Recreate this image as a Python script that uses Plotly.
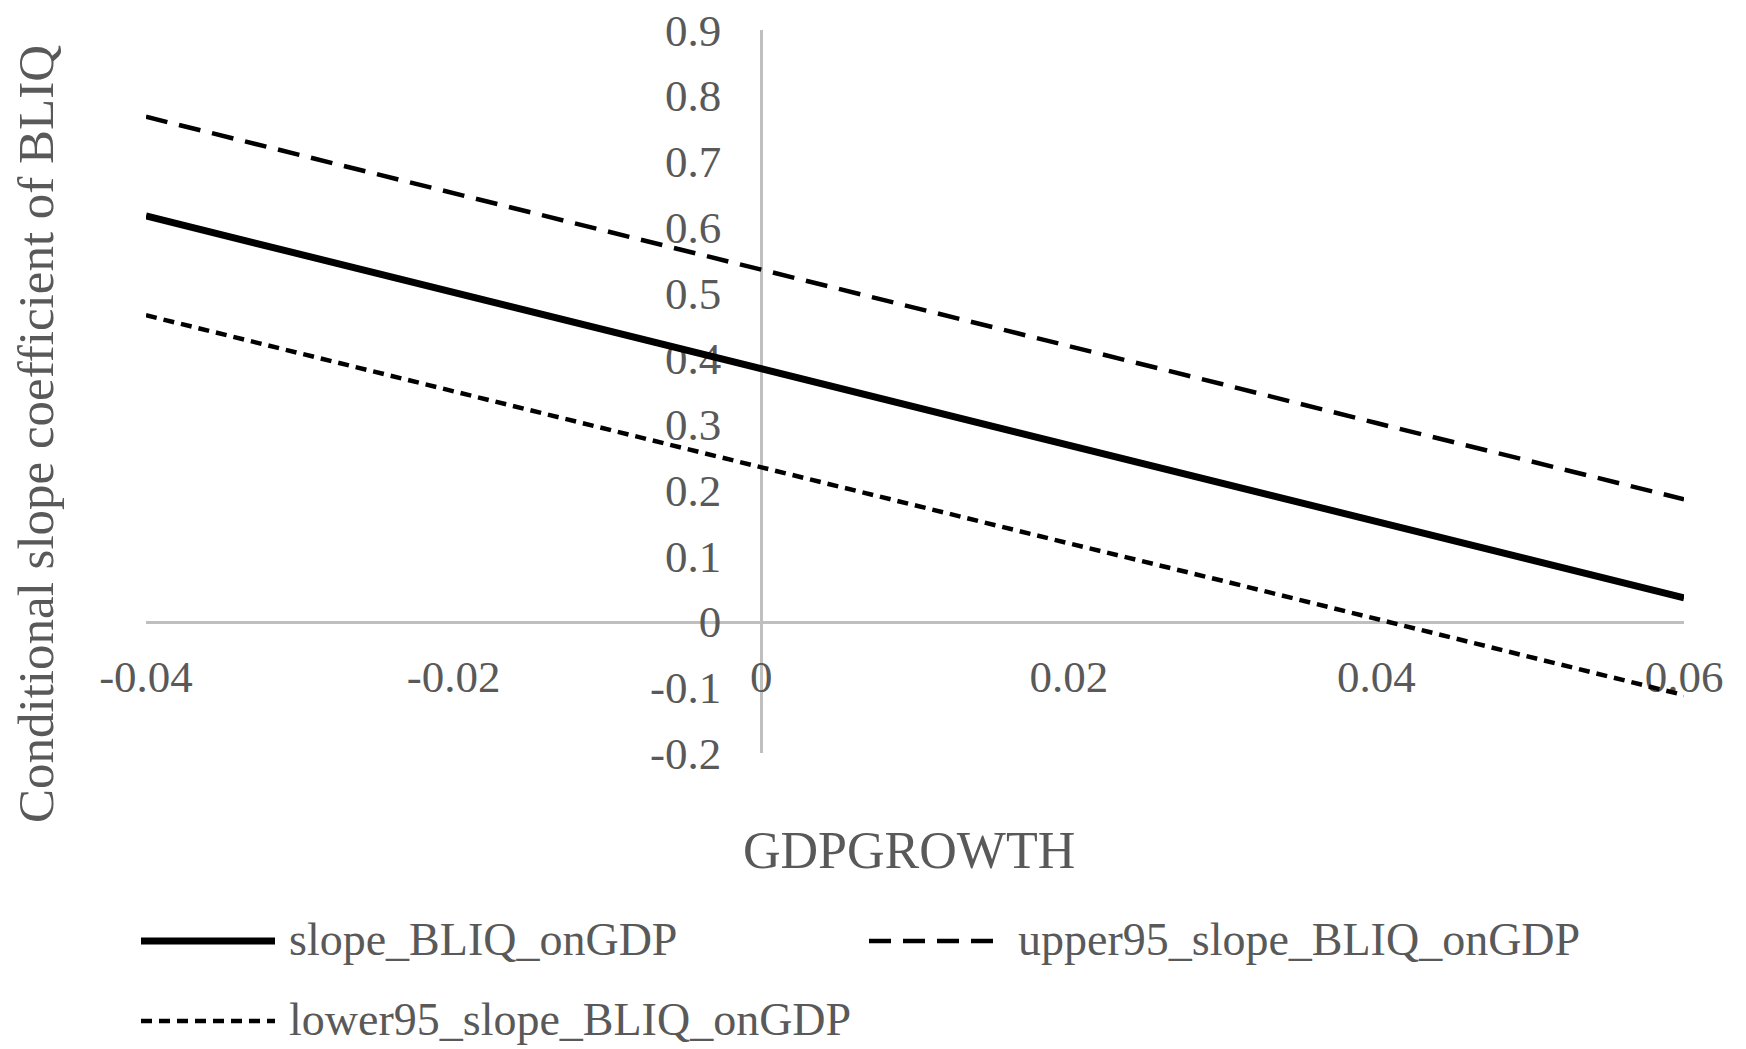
import plotly.graph_objects as go

# ---- data ----
gdpgrowth = [-0.04, -0.03, -0.02, -0.01, 0.00, 0.01, 0.02, 0.03, 0.04, 0.05, 0.06]
slope_blIQ = [0.617, 0.559, 0.501, 0.443, 0.385, 0.327, 0.268, 0.210, 0.152, 0.094, 0.036]
upper95 = [0.768, 0.710, 0.652, 0.593, 0.535, 0.477, 0.419, 0.361, 0.302, 0.244, 0.186]
lower95 = [0.466, 0.408, 0.350, 0.293, 0.235, 0.177, 0.119, 0.062, 0.004, -0.054, -0.112]

series_names = ["slope_BLIQ_onGDP", "upper95_slope_BLIQ_onGDP", "lower95_slope_BLIQ_onGDP"]

x_tickvals = [-0.04, -0.02, 0, 0.02, 0.04, 0.06]
x_ticktext = ["-0.04", "-0.02", "0", "0.02", "0.04", "0.06"]
y_tickvals = [-0.2, -0.1, 0, 0.1, 0.2, 0.3, 0.4, 0.5, 0.6, 0.7, 0.8, 0.9]
y_ticktext = ["-0.2", "-0.1", "0", "0.1", "0.2", "0.3", "0.4", "0.5", "0.6", "0.7", "0.8", "0.9"]

x_title = "GDPGROWTH"
y_title = "Conditional slope coefficient of BLIQ"

# ---- style ----
FONT = "Liberation Serif"
TXT = "#595959"
AXC = "#bfbfbf"
W, H = 1746, 1049
OFF = 8  # page body margin
L, R, T, B = 146 - OFF, 62 + OFF, 30 - OFF, 296 + OFF
PW, PH = W - L - R, H - T - B

styles = [
    dict(color="black", width=7, dash="solid"),
    dict(color="black", width=4.5, dash="22px,12px"),
    dict(color="black", width=4.5, dash="11px,7px"),
]

fig = go.Figure()
for name, ys, st in zip(series_names, [slope_blIQ, upper95, lower95], styles):
    fig.add_trace(go.Scatter(x=gdpgrowth, y=ys, mode="lines", name=name,
                             line=st, showlegend=False))

xr = [-0.04, 0.06]
yr = [-0.2, 0.9]
fig.update_layout(
    width=W, height=H,
    margin=dict(l=L, r=R, t=T, b=B, autoexpand=False),
    paper_bgcolor="white", plot_bgcolor="white",
    font=dict(family=FONT, color=TXT, size=45),
    xaxis=dict(range=xr, anchor="free", position=(0 - yr[0]) / (yr[1] - yr[0]),
               tickvals=x_tickvals, ticktext=x_ticktext,
               showgrid=False, zeroline=False, showline=True, linecolor=AXC, linewidth=3,
               ticks="", ticklabelstandoff=14, layer="below traces",
               ticklabeloverflow="allow",
               tickfont=dict(family=FONT, color=TXT, size=45)),
    yaxis=dict(range=yr, anchor="free", position=(0 - xr[0]) / (xr[1] - xr[0]),
               tickvals=y_tickvals, ticktext=y_ticktext,
               showgrid=False, zeroline=False, showline=True, linecolor=AXC, linewidth=3,
               ticks="", ticklabelstandoff=30, layer="below traces",
               ticklabeloverflow="allow",
               tickfont=dict(family=FONT, color=TXT, size=45)),
)

def px_x(p):
    return (p - OFF - L) / PW

def px_y(p):
    return (H - B - (p - OFF)) / PH

annotations = [
    dict(text=x_title, x=px_x(909), y=px_y(850), xref="paper", yref="paper",
         showarrow=False, xanchor="center", yanchor="middle",
         font=dict(family=FONT, color=TXT, size=52)),
    dict(text=y_title, x=px_x(36), y=px_y(434), xref="paper", yref="paper",
         showarrow=False, xanchor="center", yanchor="middle", textangle=-90,
         font=dict(family=FONT, color=TXT, size=51)),
]

# custom legend (long line samples as in the reference)
legend_pos = [
    (141, 275, 287, 941),
    (869, 994, 1016, 941),
    (141, 275, 287, 1021),
]
shapes = []
for name, st, (x0, x1, xt, yy) in zip(series_names, styles, legend_pos):
    shapes.append(dict(type="line", xref="paper", yref="paper",
                       x0=px_x(x0), x1=px_x(x1), y0=px_y(yy), y1=px_y(yy),
                       line=st))
    annotations.append(dict(text=name, x=px_x(xt), y=px_y(yy - 2), xref="paper", yref="paper",
                            showarrow=False, xanchor="left", yanchor="middle",
                            font=dict(family=FONT, color=TXT, size=46)))

fig.update_layout(annotations=annotations, shapes=shapes)
fig.write_html("out.html")
